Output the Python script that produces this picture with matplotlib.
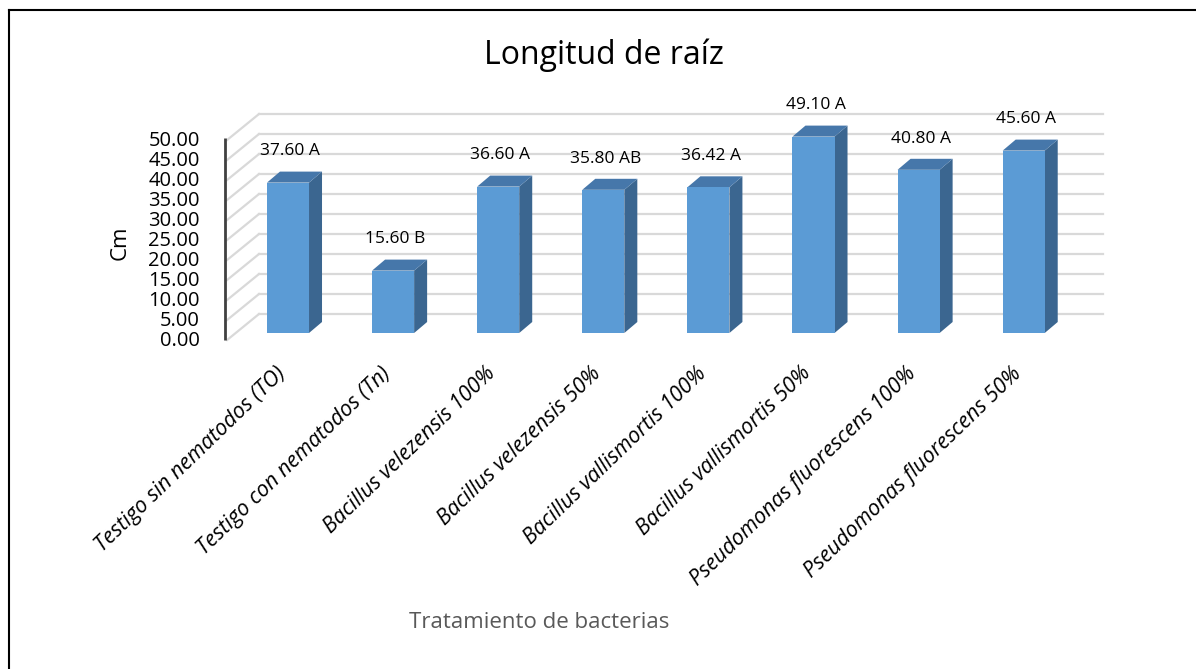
import numpy as np
import matplotlib.pyplot as plt
from matplotlib.patches import Polygon

plt.rcParams['font.family'] = ['Open Sans', 'DejaVu Sans']

# Data
tratamientos = ["Testigo sin nematodos (TO)", "Testigo con nematodos (Tn)",
                "Bacillus velezensis 100%", "Bacillus velezensis 50%",
                "Bacillus vallismortis 100%", "Bacillus vallismortis 50%",
                "Pseudomonas fluorescens 100%", "Pseudomonas fluorescens 50%"]
longitud = [37.60, 15.60, 36.60, 35.80, 36.42, 49.10, 40.80, 45.60]
letras = ["A", "B", "A", "AB", "A", "A", "A", "A"]
yticks = [0, 5, 10, 15, 20, 25, 30, 35, 40, 45, 50]

W, H = 1196, 669
fig = plt.figure(figsize=(W / 100, H / 100), dpi=100)
ax = fig.add_axes([0, 0, 1, 1])
ax.set_axis_off()

# pixel layout -> data units (1 category = 105.1 px, 1 cm = 4 px)
cat_px, val_px = 105.1, 4.0
x0_px, y0_px = 288, 333
ax.set_xlim((0 - x0_px) / cat_px, (W - x0_px) / cat_px)
ax.set_ylim((y0_px - H) / val_px, y0_px / val_px)

# planes: front axis, back wall
front_dx, front_dy = (225 - x0_px) / cat_px, -1.75
back_dx, back_dy = (259 - x0_px) / cat_px, 4.75
back_right = (1103 - x0_px) / cat_px

grid_c = '#D9D9D9'
for v in yticks:
    ax.plot([back_dx, back_right], [v + back_dy, v + back_dy], color=grid_c, lw=1.6, zorder=1)
    ax.plot([front_dx + 0.02, back_dx], [v + front_dy, v + back_dy], color=grid_c, lw=1.6, zorder=1)
    ax.text(front_dx - 0.24, v + front_dy - 0.3, "%.2f" % v, ha='right', va='center',
            fontsize=14.5, color='black')
ax.plot([front_dx, front_dx], [yticks[0] + front_dy, yticks[-1] + front_dy + 0.5],
        color='#404040', lw=2, zorder=2, solid_capstyle='butt')

# 3D-like bars
bw = 0.4
ddx, ddy = 13 / cat_px, 2.75
front_c, top_c, side_c = '#5B9BD5', '#4677AA', '#3B6690'
for i, v in enumerate(longitud):
    xl, xr = i - bw / 2, i + bw / 2
    ax.add_patch(Polygon([(xr, 0), (xr + ddx, ddy), (xr + ddx, v + ddy), (xr, v)],
                         closed=True, fc=side_c, ec='none', zorder=3))
    ax.add_patch(Polygon([(xl, v), (xr, v), (xr + ddx, v + ddy), (xl + ddx, v + ddy)],
                         closed=True, fc=top_c, ec='none', zorder=3))
    ax.bar(i, v, width=bw, color=front_c, zorder=4)
    ax.text(i + 0.02, v + 7.8, "%.2f %s" % (v, letras[i]), ha='center', va='center',
            fontsize=12.5, color='black')
    ax.text(i - 0.12, -7.5, tratamientos[i], ha='right', va='top', rotation=44,
            rotation_mode='anchor', fontsize=15.5, style='italic', color='black')

fig.text(604 / W, 1 - 55 / H, "Longitud de raíz", ha='center', va='center', fontsize=23)
fig.text(120 / W, 1 - 243 / H, "Cm", ha='center', va='center', rotation=90, fontsize=16)
fig.text(539 / W, 1 - 623 / H, "Tratamiento de bacterias", ha='center', va='center',
         fontsize=16, color='#595959')

# chart frame (top and left edges visible)
fig.add_artist(plt.Line2D([9 / W, 9 / W], [0, 1 - 10 / H], color='black', lw=1.5))
fig.add_artist(plt.Line2D([9 / W, 1], [1 - 10 / H, 1 - 10 / H], color='black', lw=1.5))

fig.savefig("out.png", dpi=100)
